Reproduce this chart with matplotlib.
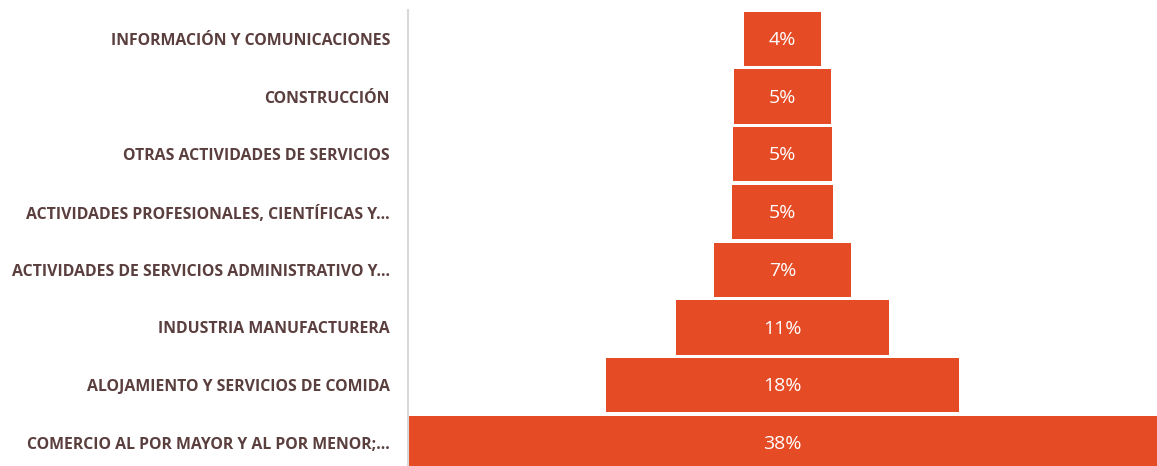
import matplotlib
matplotlib.use("Agg")
import matplotlib.pyplot as plt

categories = [
    "INFORMACIÓN Y COMUNICACIONES",
    "CONSTRUCCIÓN",
    "OTRAS ACTIVIDADES DE SERVICIOS",
    "ACTIVIDADES PROFESIONALES, CIENTÍFICAS Y...",
    "ACTIVIDADES DE SERVICIOS ADMINISTRATIVO Y...",
    "INDUSTRIA MANUFACTURERA",
    "ALOJAMIENTO Y SERVICIOS DE COMIDA",
    "COMERCIO AL POR MAYOR Y AL POR MENOR;...",
]
values = [3.9, 4.9, 5.0, 5.1, 6.9, 10.8, 17.9, 38.0]
value_labels = ["4%", "5%", "5%", "5%", "7%", "11%", "18%", "38%"]

W, H = 1157, 466
fig = plt.figure(figsize=(W / 100, H / 100), dpi=100)
ax = fig.add_axes([408 / W, 0, 749 / W, (466 - 10) / H])

bar_color = "#E54B24"
text_color = "#5B3F3F"
ypos = list(range(len(categories)))
lefts = [-v / 2 for v in values]
ax.barh(ypos, values, left=lefts, height=0.94, color=bar_color, edgecolor="none")

for y, v, lab in zip(ypos, values, value_labels):
    ax.text(0, y + 0.02, lab, ha="center", va="center", color="white",
            fontsize=14, family=["Open Sans", "DejaVu Sans"])

ax.set_xlim(-19, 19)
ax.set_ylim(7.4, -0.5)
ax.set_yticks(ypos)
ax.set_yticklabels(categories, fontsize=11.4, fontweight="bold", color=text_color,
                   family=["Open Sans", "DejaVu Sans"])
ax.tick_params(axis="y", length=0, pad=13)
ax.set_xticks([])
for s in ["top", "right", "bottom"]:
    ax.spines[s].set_visible(False)
ax.spines["left"].set_color("#D9D9D9")
ax.spines["left"].set_linewidth(1.5)

fig.savefig("out.png", dpi=100)
